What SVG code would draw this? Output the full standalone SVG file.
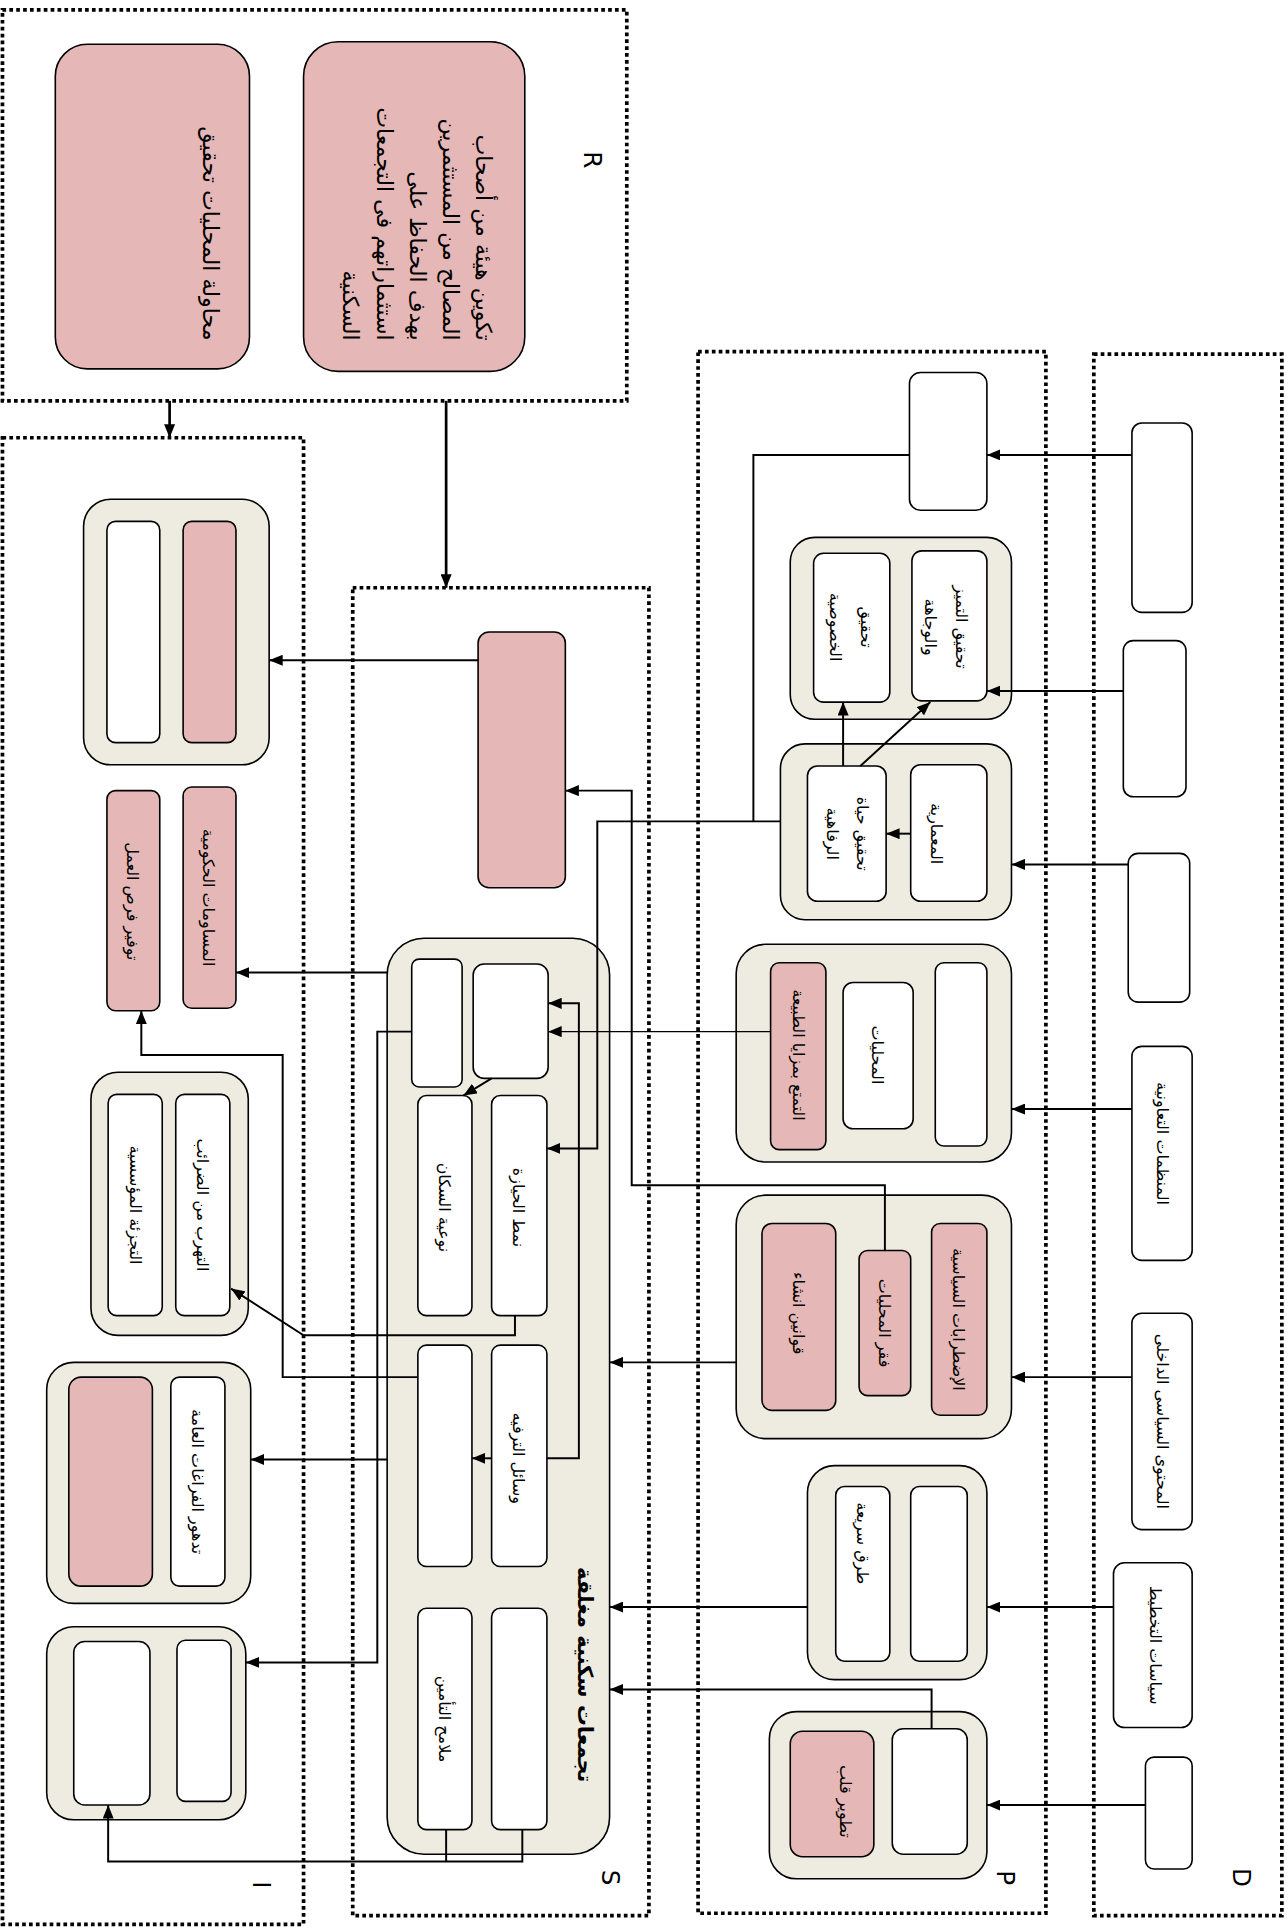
<svg xmlns="http://www.w3.org/2000/svg" width="1288" height="1928" viewBox="0 0 1288 1928">
<style>
.dot{fill:none;stroke:#000;stroke-width:3;stroke-dasharray:3 2.6}
.pk{fill:#E5B8B7;stroke:#000;stroke-width:1.3}
.bg{fill:#EEECE1;stroke:#000;stroke-width:1.3}
.wh{fill:#fff;stroke:#000;stroke-width:1.3}
.c{fill:none;stroke:#000;stroke-width:1.6}
.cb{fill:none;stroke:#000;stroke-width:2.2}
.t{font-family:"DejaVu Sans",sans-serif;font-size:13px;text-anchor:middle;dominant-baseline:central;fill:#000}
.tb{font-family:"DejaVu Sans",sans-serif;font-size:18px;text-anchor:end;dominant-baseline:central;fill:#000}
.ttl{font-family:"DejaVu Sans",sans-serif;font-size:17px;font-weight:bold;text-anchor:middle;dominant-baseline:central;fill:#000}
.lbl{font-family:"DejaVu Sans",sans-serif;font-size:20px;text-anchor:middle;dominant-baseline:central;fill:#000}
</style>
<defs>
<marker id="ah" markerWidth="11" markerHeight="9" refX="11" refY="4.5" orient="auto" markerUnits="userSpaceOnUse"><path d="M0,0 L11,4.5 L0,9 z" fill="#000"/></marker>
</defs>
<rect width="1288" height="1928" fill="#fff"/>
<g transform="scale(1.22901,1.22959)">
<g id="frames">
<rect class="dot" x="2" y="8" width="508" height="318"/>
<rect class="dot" x="2" y="356" width="245" height="1209"/>
<rect class="dot" x="287" y="478" width="241" height="1080"/>
<rect class="dot" x="568" y="286" width="283" height="1270"/>
<rect class="dot" x="890" y="288" width="153" height="1270"/>
<text class="lbl" transform="translate(482,130) rotate(90)">R</text>
<text class="lbl" transform="translate(213,1533) rotate(90)">I</text>
<text class="lbl" transform="translate(497,1527) rotate(90)">S</text>
<text class="lbl" transform="translate(818,1527) rotate(90)">P</text>
<text class="lbl" transform="translate(1010,1527) rotate(90)">D</text>
</g>
<g id="r1"><rect class="pk" x="247" y="34" width="180" height="268" rx="28"/>
<text class="tb" transform="translate(394,277) rotate(90)">تكوين هيئة من أصحاب</text>
<text class="tb" transform="translate(367,277) rotate(90)">المصالح من المستثمرين</text>
<text class="tb" transform="translate(340,277) rotate(90)">بهدف الحفاظ على</text>
<text class="tb" transform="translate(313,277) rotate(90)">استثماراتهم فى التجمعات</text>
<text class="tb" transform="translate(286,277) rotate(90)">السكنية</text></g>
<g id="r2"><rect class="pk" x="45" y="36" width="158" height="264" rx="26"/>
<text class="tb" transform="translate(172,277) rotate(90)">محاولة المحليات تحقيق</text></g>

<g id="i1"><rect class="bg" x="68" y="406" width="151" height="216" rx="22"/><rect class="wh" x="87" y="424" width="43" height="180" rx="7"/><rect class="pk" x="149" y="424" width="43" height="180" rx="7"/></g>
<g id="i2"><rect class="pk" x="149" y="640" width="43" height="180" rx="7"/><text class="t" transform="translate(170,730) rotate(90)">المساومات الحكومية</text></g>
<g id="i3"><rect class="pk" x="87" y="643" width="43" height="179" rx="7"/><text class="t" transform="translate(108,733) rotate(90)">توفير فرص العمل</text></g>
<g id="i4"><rect class="bg" x="74" y="872" width="128" height="214" rx="22"/><rect class="wh" x="88" y="890" width="44" height="180" rx="7"/><text class="t" transform="translate(110,980) rotate(90)">التجزئة المؤسسية</text><rect class="wh" x="143" y="890" width="44" height="180" rx="7"/><text class="t" transform="translate(165,980) rotate(90)">التهرب من الضرائب</text></g>
<g id="i5"><rect class="bg" x="38" y="1108" width="166" height="196" rx="22"/><rect class="pk" x="56" y="1120" width="68" height="170" rx="10"/><rect class="wh" x="139" y="1120" width="44" height="170" rx="7"/><text class="t" transform="translate(161,1205) rotate(90)">تدهور الفراغات العامة</text></g>
<g id="i6"><rect class="bg" x="38" y="1323" width="162" height="157" rx="22"/><rect class="wh" x="60" y="1335" width="62" height="133" rx="9"/><rect class="wh" x="144" y="1334" width="44" height="131" rx="7"/></g>

<g id="s1"><rect class="pk" x="389" y="514" width="71" height="208" rx="9"/></g>
<g id="s2"><rect class="bg" x="315" y="763" width="181" height="745" rx="30"/>
<rect class="wh" x="335" y="780" width="41" height="104" rx="6"/>
<rect class="wh" x="385" y="784" width="61" height="93" rx="9"/>
<rect class="wh" x="340" y="891" width="44" height="179" rx="7"/><text class="t" transform="translate(362,982) rotate(90)">نوعية السكان</text>
<rect class="wh" x="400" y="891" width="45" height="179" rx="7"/><text class="t" transform="translate(422,982) rotate(90)">نمط الحيازة</text>
<rect class="wh" x="340" y="1094" width="44" height="180" rx="7"/>
<rect class="wh" x="400" y="1094" width="45" height="180" rx="7"/><text class="t" transform="translate(422,1186) rotate(90)">وسائل الترفيه</text>
<rect class="wh" x="340" y="1308" width="44" height="180" rx="7"/><text class="t" transform="translate(362,1398) rotate(90)">ملامح التأمين</text>
<rect class="wh" x="400" y="1308" width="45" height="180" rx="7"/>
<text class="ttl" transform="translate(476,1362) rotate(90)">تجمعات سكنية مغلقة</text></g>

<g id="p1"><rect class="wh" x="740" y="303" width="63" height="112" rx="9"/></g>
<g id="p2"><rect class="bg" x="643" y="437" width="180" height="148" rx="20"/>
<rect class="wh" x="662" y="450" width="62" height="121" rx="8"/><text class="t" transform="translate(705,510) rotate(90)">تحقيق</text><text class="t" transform="translate(680,510) rotate(90)">الخصوصية</text>
<rect class="wh" x="742" y="448" width="61" height="122" rx="8"/><text class="t" transform="translate(782,510) rotate(90)">تحقيق التميز</text><text class="t" transform="translate(757,510) rotate(90)">والوجاهة</text></g>
<g id="p3"><rect class="bg" x="635" y="605" width="188" height="143" rx="20"/>
<rect class="wh" x="657" y="623" width="64" height="110" rx="8"/><text class="t" transform="translate(702,678) rotate(90)">تحقيق حياة</text><text class="t" transform="translate(677,678) rotate(90)">الرفاهية</text>
<rect class="wh" x="741" y="622" width="62" height="111" rx="8"/><text class="t" transform="translate(762,678) rotate(90)">المعمارية</text></g>
<g id="p4"><rect class="bg" x="599" y="768" width="224" height="177" rx="24"/>
<rect class="pk" x="627" y="783" width="45" height="152" rx="7"/><text class="t" transform="translate(650,858) rotate(90)">التمتع بمزايا الطبيعة</text>
<rect class="wh" x="686" y="799" width="57" height="119" rx="8"/><text class="t" transform="translate(714,858) rotate(90)">المحليات</text>
<rect class="wh" x="761" y="783" width="42" height="149" rx="7"/></g>
<g id="p5"><rect class="bg" x="599" y="972" width="224" height="198" rx="24"/>
<rect class="pk" x="620" y="995" width="60" height="152" rx="8"/><text class="t" transform="translate(650,1068) rotate(90)">قوانين انشاء</text>
<rect class="pk" x="699" y="1017" width="42" height="118" rx="7"/><text class="t" transform="translate(720,1076) rotate(90)">فقر المحليات</text>
<rect class="pk" x="758" y="995" width="45" height="156" rx="7"/><text class="t" transform="translate(780,1073) rotate(90)">الإضطرابات السياسية</text></g>
<g id="p6"><rect class="bg" x="657" y="1192" width="146" height="174" rx="22"/>
<rect class="wh" x="680" y="1209" width="44" height="142" rx="7"/><text class="t" transform="translate(702,1255) rotate(90)">طرق سريعة</text>
<rect class="wh" x="741" y="1209" width="46" height="142" rx="7"/></g>
<g id="p7"><rect class="bg" x="626" y="1392" width="177" height="136" rx="22"/>
<rect class="pk" x="643" y="1408" width="68" height="102" rx="10"/><text class="t" transform="translate(688,1465) rotate(90)">تطوير قلب</text>
<rect class="wh" x="726" y="1406" width="61" height="102" rx="9"/></g>

<g id="d1"><rect class="wh" x="921" y="344" width="49" height="154" rx="8"/></g>
<g id="d2"><rect class="wh" x="914" y="521" width="51" height="127" rx="8"/></g>
<g id="d3"><rect class="wh" x="918" y="694" width="50" height="121" rx="8"/></g>
<g id="d4"><rect class="wh" x="921" y="851" width="49" height="174" rx="8"/><text class="t" transform="translate(946,930) rotate(90)">المنظمات التعاونية</text></g>
<g id="d5"><rect class="wh" x="921" y="1068" width="49" height="176" rx="8"/><text class="t" transform="translate(946,1156) rotate(90)">المحتوى السياسى الداخلى</text></g>
<g id="d6"><rect class="wh" x="906" y="1271" width="64" height="134" rx="9"/><text class="t" transform="translate(940,1338) rotate(90)">سياسات التخطيط</text></g>
<g id="d7"><rect class="wh" x="932" y="1429" width="38" height="91" rx="7"/></g>

<g id="connectors">
<path class="cb" d="M138,326 V356" marker-end="url(#ah)"/>
<path class="cb" d="M363,326 V478" marker-end="url(#ah)"/>
<path class="c" d="M389,537 H219" marker-end="url(#ah)"/>
<path class="c" d="M921,370 H803" marker-end="url(#ah)"/>
<path class="c" d="M914,562 H803" marker-end="url(#ah)"/>
<path class="c" d="M918,703 H823" marker-end="url(#ah)"/>
<path class="c" d="M921,902 H823" marker-end="url(#ah)"/>
<path class="c" d="M921,1120 H823" marker-end="url(#ah)"/>
<path class="c" d="M906,1307 H803" marker-end="url(#ah)"/>
<path class="c" d="M932,1468 H803" marker-end="url(#ah)"/>
<path class="c" d="M599,1108 H496" marker-end="url(#ah)"/>
<path class="c" d="M657,1307 H496" marker-end="url(#ah)"/>
<path class="c" d="M758,1406 V1374 H496" marker-end="url(#ah)"/>
<path class="c" d="M741,678 H721" marker-end="url(#ah)"/>
<path class="c" d="M686,623 V571" marker-end="url(#ah)"/>
<path class="c" d="M700,623 L757,571" marker-end="url(#ah)"/>
<path class="c" d="M740,370 H613 V668"/>
<path class="c" d="M635,668 H486 V934 H445" marker-end="url(#ah)"/>
<path class="c" d="M720,1017 V964 H514 V643 H460" marker-end="url(#ah)"/>
<path class="c" d="M627,839 H446" marker-end="url(#ah)" style="stroke-width:1.1"/>
<path class="c" d="M445,1186 H471 V816 H446" marker-end="url(#ah)"/>
<path class="c" d="M400,877 L377,891" marker-end="url(#ah)"/>
<path class="c" d="M400,1186 H384" marker-end="url(#ah)"/>
<path class="c" d="M419,1070 V1086 H247 L188,1048" marker-end="url(#ah)"/>
<path class="c" d="M340,1120 H230 V858 H115 V822" marker-end="url(#ah)"/>
<path class="c" d="M335,839 H307 V1352 H200" marker-end="url(#ah)"/>
<path class="c" d="M315,791 H192" marker-end="url(#ah)"/>
<path class="c" d="M315,1187 H204" marker-end="url(#ah)"/>
<path class="c" d="M363,1488 V1514"/>
<path class="c" d="M425,1488 V1514 H88 V1468" marker-end="url(#ah)"/>
</g>
</g>
</svg>
